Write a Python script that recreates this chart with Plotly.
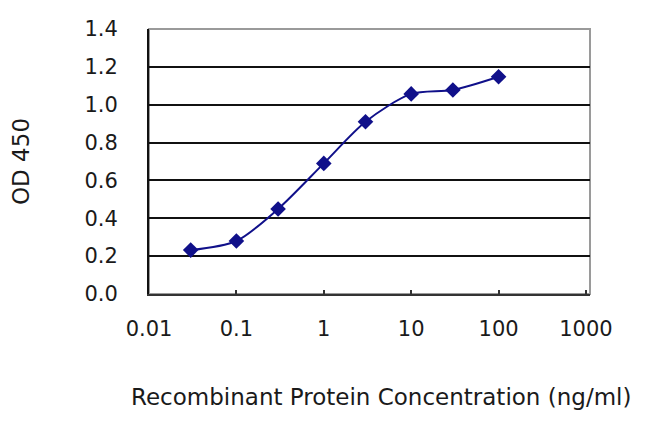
import plotly.graph_objects as go

# Data
concentration = [0.03, 0.1, 0.3, 1, 3, 10, 30, 100]
od450 = [0.232, 0.28, 0.449, 0.69, 0.91, 1.057, 1.078, 1.148]

x_tickvals = [0.01, 0.1, 1, 10, 100, 1000]
x_ticktext = ["0.01", "0.1", "1", "10", "100", "1000"]
y_tickvals = [0.0, 0.2, 0.4, 0.6, 0.8, 1.0, 1.2, 1.4]
y_ticktext = ["0.0", "0.2", "0.4", "0.6", "0.8", "1.0", "1.2", "1.4"]
x_title = "Recombinant Protein Concentration (ng/ml)"
y_title = "OD 450"

navy = "#10108a"
tick_font = dict(family="DejaVu Sans", size=21, color="#1a1a1a")
title_font = dict(family="DejaVu Sans", size=23, color="#1a1a1a")

fig = go.Figure()
fig.add_trace(go.Scatter(
    x=concentration, y=od450,
    mode="lines+markers",
    line=dict(color=navy, width=2, shape="spline", smoothing=0.8),
    marker=dict(symbol="diamond", size=12, color=navy),
    showlegend=False,
))

fig.update_layout(
    width=650, height=433,
    margin=dict(l=141, r=68, t=21, b=147, autoexpand=False),
    paper_bgcolor="white", plot_bgcolor="white",
    font=tick_font,
    shapes=[dict(type="rect", xref="paper", yref="paper", x0=0, y0=0, x1=1, y1=1,
                 line=dict(color="#9a9a9a", width=2), layer="below")],
    annotations=[dict(text=x_title, xref="paper", yref="paper", x=0.526, y=-0.389,
                      xanchor="center", yanchor="middle", showarrow=False, font=title_font)],
)

fig.update_xaxes(
    type="log", range=[-2, 3.046], automargin=False,
    tickvals=x_tickvals, ticktext=x_ticktext,
    showgrid=False, zeroline=False,
    showline=True, linecolor="#333333", linewidth=2,
    ticks="inside", ticklen=4, tickcolor="#333333", tickwidth=2,
    ticklabelstandoff=15,
    tickfont=tick_font,
)
fig.update_yaxes(
    range=[0, 1.4], automargin=False,
    tickvals=y_tickvals, ticktext=y_ticktext,
    showgrid=True, gridcolor="#111111", gridwidth=2,
    zeroline=False,
    showline=True, linecolor="#111111", linewidth=2,
    ticks="", ticklabelstandoff=25,
    tickfont=tick_font,
    title=dict(text=y_title, font=title_font, standoff=58),
)

fig.write_html("out.html")
